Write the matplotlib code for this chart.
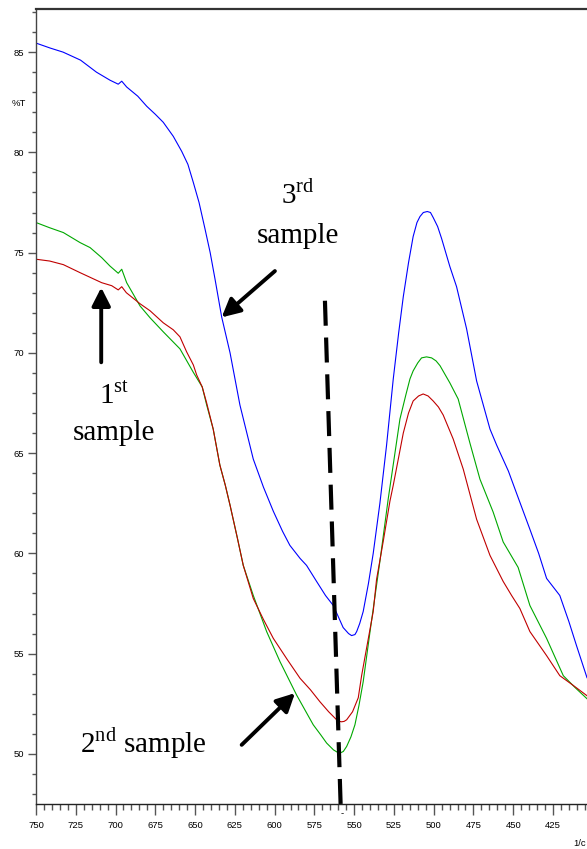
import matplotlib
matplotlib.use("Agg")
import matplotlib.pyplot as plt
from matplotlib.ticker import MultipleLocator

plt.rcParams['mathtext.fontset'] = 'custom'
plt.rcParams['mathtext.rm'] = 'Liberation Serif'
plt.rcParams['lines.scale_dashes'] = False

# ---- data (wavenumber 1/cm, %T) ----
blue_x = [750, 741, 733, 722, 712, 703.5, 698.3, 696.1, 693, 686, 680.4, 675, 670, 663.7, 658.4,
          654.5, 651.1, 647.5, 643.8, 640.5, 637.5, 633.3, 628, 621.8, 613.4, 607, 600.8, 595,
          590.4, 584, 579.9, 573.6, 568, 563.1, 556.9, 553.5, 551.6, 549.5, 548.4, 546.5,
          544.3, 541, 538, 533.8, 529.6, 525.4, 522, 519.1, 515.8, 512.9, 510.5, 508.6, 506.5,
          504, 502, 500.3, 497.5, 495, 489.8, 485.6, 479.3, 473, 464.6, 460.4, 453, 447.9,
          439.5, 434, 429, 420.7, 415, 410.2, 403.6]
blue_y = [85.45, 85.2, 85.0, 84.6, 84.0, 83.6, 83.4, 83.55, 83.26, 82.8, 82.3, 81.9, 81.5, 80.8,
          80.05, 79.4, 78.5, 77.5, 76.2, 75.0, 73.7, 71.8, 70.0, 67.4, 64.7, 63.3, 62.1, 61.1,
          60.4, 59.75, 59.4, 58.6, 57.9, 57.4, 56.3, 56.0, 55.9, 55.95, 56.1, 56.5,
          57.1, 58.5, 60.0, 62.5, 65.4, 68.7, 71.0, 72.8, 74.5, 75.8, 76.5, 76.8, 77.0,
          77.05, 77.0, 76.75, 76.3, 75.7, 74.3, 73.3, 71.2, 68.6, 66.2, 65.4, 64.1, 63.0,
          61.2, 60.0, 58.75, 57.9, 56.6, 55.4, 53.8]

red_x = [750, 741.4, 732.8, 722.3, 708.7, 702.4, 698.3, 696.1, 693.2, 684.6, 678.3, 670, 663.7,
         659.5, 655.3, 651.1, 649, 645.5, 642.7, 638.6, 634.4, 631, 628, 623.5, 619.7, 613.4,
         607, 600.8, 592, 584, 577.5, 571.5, 566, 561, 559.3, 557.9, 556.3, 554.7, 551,
         547.4, 545.3, 542.2, 538, 535.9, 531.7, 527.5, 525.4, 522, 519.1, 515.8, 512.9,
         509.5, 506.6, 503.5, 500.3, 497, 494, 487.7, 481.4, 473, 464.6, 456.3, 451, 445.8,
         439.5, 429, 420.7, 412, 403.6]
red_y = [74.67, 74.58, 74.4, 74.0, 73.5, 73.35, 73.14, 73.3, 73.0, 72.45, 72.1, 71.5, 71.15,
         70.8, 70.05, 69.4, 68.9, 68.3, 67.5, 66.2, 64.4, 63.4, 62.4, 60.8, 59.4, 57.75,
         56.7, 55.76, 54.7, 53.77, 53.2, 52.6, 52.1, 51.7, 51.62, 51.6, 51.62, 51.7, 52.1,
         52.8, 53.9, 55.26, 57.1, 58.7, 60.6, 62.6, 63.4, 64.8, 66.0, 67.0, 67.6,
         67.85, 67.95, 67.85, 67.6, 67.3, 66.9, 65.7, 64.2, 61.7, 59.9, 58.6, 57.9, 57.25,
         56.1, 54.9, 53.9, 53.4, 52.9]

green_x = [750, 741.4, 732.8, 722.3, 716, 708.7, 703.5, 698.3, 696.1, 693, 684.6, 678.3, 670,
           659.5, 651.1, 645.5, 642.7, 638.6, 634.4, 631, 628, 623.5, 619.7, 613.4, 605, 596.6,
           586.2, 575.7, 571, 567.3, 563, 560.5, 558.9, 556.8, 554.7, 552, 549.5, 547, 544.3,
           540, 533.8, 528.6, 521.2, 517.5, 514.9, 512.9, 510, 507.6, 504.5, 501.3, 498.5,
           496, 489.8, 484.6, 477.2, 470.9, 462.6, 456.3, 446.9, 439.5, 429, 418.5, 411,
           403.6]
green_y = [76.5, 76.24, 76.0, 75.5, 75.25, 74.75, 74.33, 73.97, 74.17, 73.5, 72.34, 71.75, 71.05,
           70.2, 69.03, 68.3, 67.4, 66.2, 64.4, 63.4, 62.4, 60.8, 59.4, 57.9, 56.1, 54.6,
           52.94, 51.45, 50.95, 50.54, 50.2, 50.08, 50.04, 50.12, 50.37, 50.85, 51.45, 52.4,
           53.6, 56.1, 59.6, 62.7, 66.7, 67.9, 68.7, 69.1, 69.5, 69.75, 69.8, 69.75, 69.6,
           69.36, 68.5, 67.7, 65.5, 63.7, 62.06, 60.57, 59.3, 57.4, 55.76, 53.9, 53.3,
           52.75]

x_ticks = [750, 725, 700, 675, 650, 625, 600, 575, 550, 525, 500, 475, 450, 425]
y_ticks = [50, 55, 60, 65, 70, 75, 80, 85]

# annotation geometry (data coords)
dash_x = [568.35, 558.5]
dash_y = [72.6, 47.5]

fig = plt.figure(figsize=(5.87, 8.49), dpi=100)
ax = fig.add_axes([36 / 587, 1 - 804 / 849, 1 - 36 / 587, (804 - 9) / 849])

ax.plot(blue_x, blue_y, color='#0000FF', lw=0.8)
ax.plot(green_x, green_y, color='#00A800', lw=0.8)
ax.plot(red_x, red_y, color='#C00000', lw=0.8)

ax.plot(dash_x, dash_y, color='black', lw=3.0, dashes=(18, 8.5), solid_capstyle='butt',
        dash_capstyle='butt')

ax.set_xlim(750, 403.6)
ax.set_ylim(47.5, 87.15)

ax.set_xticks(x_ticks)
ax.set_yticks(y_ticks)
ax.xaxis.set_minor_locator(MultipleLocator(5))
ax.yaxis.set_minor_locator(MultipleLocator(1))

tick_font = {'family': ['Liberation Sans Narrow', 'Liberation Sans', 'DejaVu Sans'], 'size': 6.8}
ax.set_xticklabels([str(v) for v in x_ticks], fontdict=tick_font)
ax.set_yticklabels([str(v) for v in y_ticks], fontdict=tick_font)

ax.tick_params(axis='x', which='major', direction='out', length=8, width=1, color='#555555', pad=4)
ax.tick_params(axis='x', which='minor', direction='out', length=4.5, width=1, color='#555555')
ax.tick_params(axis='y', which='major', direction='out', length=5.5, width=1, color='#555555', pad=3)
ax.tick_params(axis='y', which='minor', direction='out', length=3, width=1, color='#555555')

ax.spines['right'].set_visible(False)
ax.spines['top'].set_linewidth(1.6)
ax.spines['top'].set_color('#333333')
ax.spines['left'].set_linewidth(1.0)
ax.spines['left'].set_color('#444444')
ax.spines['bottom'].set_linewidth(1.0)
ax.spines['bottom'].set_color('#222222')

serif = {'family': ['Liberation Serif', 'DejaVu Serif'], 'size': 21}

ax.text(585.3, 77.4, r'3$^{\mathrm{rd}}$', ha='center', va='baseline', fontdict=serif)
ax.text(585.3, 75.5, 'sample', ha='center', va='baseline', fontdict=serif)
ax.text(701.0, 67.45, r'1$^{\mathrm{st}}$', ha='center', va='baseline', fontdict=serif)
ax.text(700.7, 65.66, 'sample', ha='center', va='baseline', fontdict=serif)
ax.text(722.3, 50.04, r'2$^{\mathrm{nd}}$ sample', ha='left', va='baseline', fontdict=serif)

arrow_kw = dict(arrowstyle='-|>,head_length=0.55,head_width=0.28', lw=2.8, color='black',
                shrinkA=0, shrinkB=0, mutation_scale=20)
ax.annotate('', xy=(633.3, 71.77), xytext=(599.8, 74.08), arrowprops=arrow_kw)
ax.annotate('', xy=(709.0, 73.26), xytext=(709.0, 69.53), arrowprops=arrow_kw)
ax.annotate('', xy=(587.2, 53.03), xytext=(620.7, 50.45), arrowprops=arrow_kw)

small = {'family': ['Liberation Sans Narrow', 'Liberation Sans', 'DejaVu Sans'], 'size': 6.8}
fig.text(19 / 587, 1 - 103 / 849, '%T', ha='center', va='center', fontdict=small)
fig.text(586 / 587, 1 - 843 / 849, '1/c', ha='right', va='center', fontdict=small)
fig.text(341.7 / 587, 1 - 814 / 849, '-', ha='center', va='center', fontdict=small)

fig.savefig('out.png', dpi=100)
